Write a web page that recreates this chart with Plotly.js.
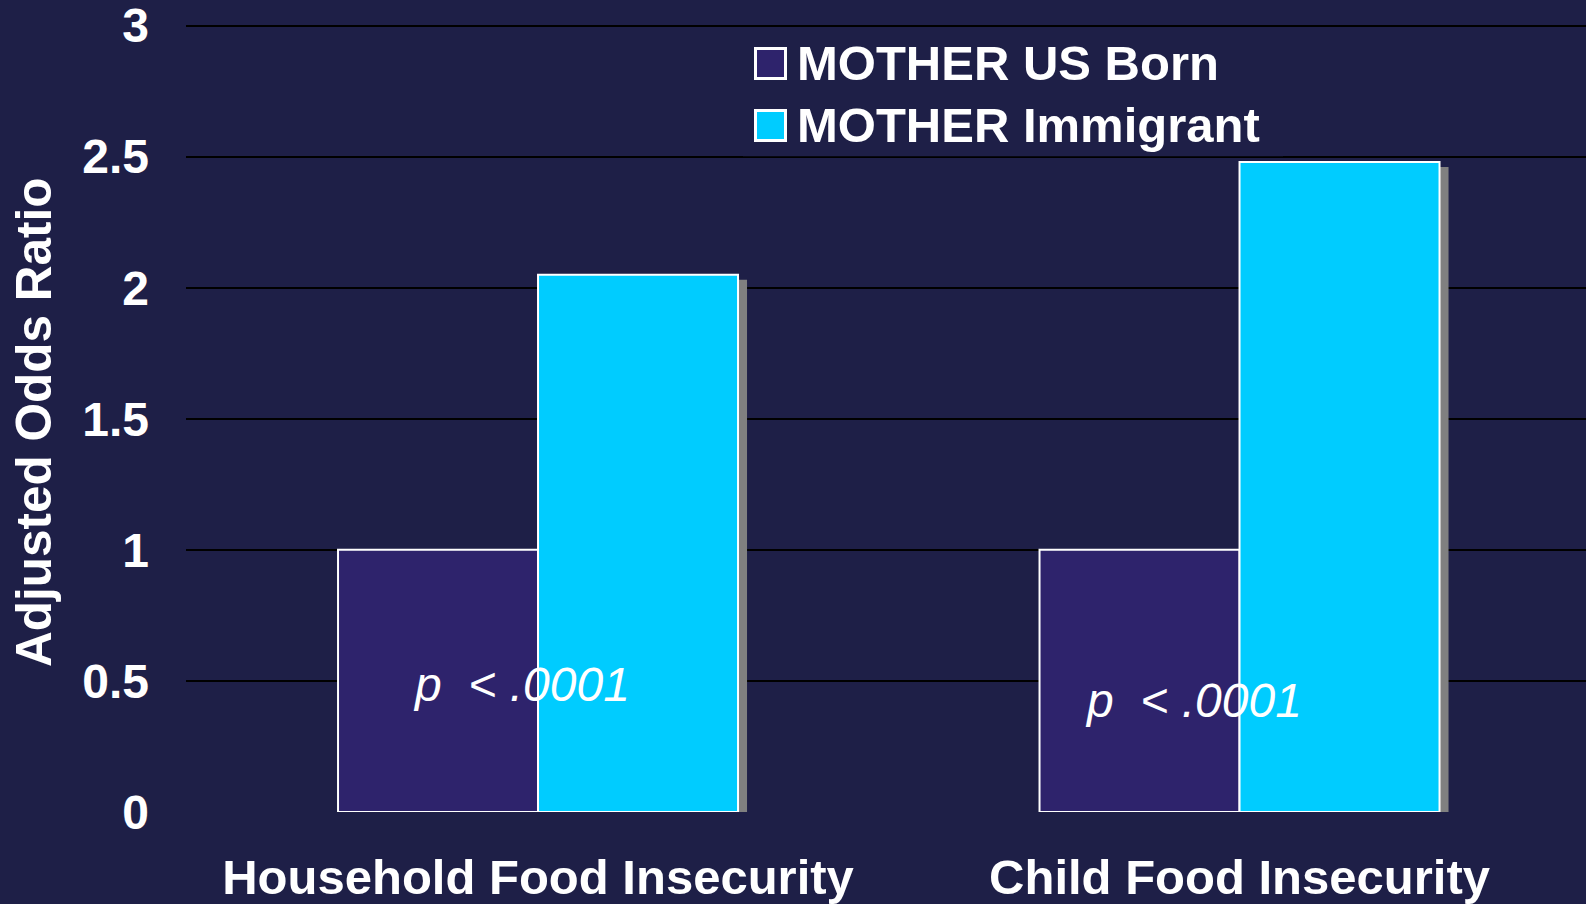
<!DOCTYPE html>
<html>
<head>
<meta charset="utf-8">
<script src="https://cdn.plot.ly/plotly-3.0.1.min.js"></script>
<style>
  html, body { margin: 0; padding: 0; background: #1E1F47; }
  #chart { width: 1586px; height: 904px; }
</style>
</head>
<body>
<div id="chart"></div>
<script>
// ---- data ----
const categories = ['Household Food Insecurity', 'Child Food Insecurity'];
const seriesNames = ['MOTHER US Born', 'MOTHER Immigrant'];
const usBorn = [1, 1];
const immigrant = [2.05, 2.48];
const yTicks = [0, 0.5, 1, 1.5, 2, 2.5, 3];
const yTickText = ['0', '0.5', '1', '1.5', '2', '2.5', '3'];
const yTitle = 'Adjusted Odds Ratio';
const pLabel = 'p&nbsp; &lt; .0001';

// ---- style ----
const BG = '#1E1F47';
const C_US = '#2E236C';
const C_IM = '#00CCFF';
const SHADOW = '#808080';
const FONT = 'Liberation Sans, Arial, Helvetica, sans-serif';

const W = 1586, H = 904;
const L = 186, R = 0, T = 23, B = 92;
const PW = W - L - R, PH = H - T - B;
const fx = x => (x - L) / PW;
const fy = y => (H - B - y) / PH;

const Y_MAX = 3.01;
const X_RANGE = [-0.50182, 1.4939];

// shadow offset in pixels
const SDX = 8, SDY = 6;
const catUnitPx = PW / (X_RANGE[1] - X_RANGE[0]);
const yUnitPx = PH / Y_MAX;
const sx = SDX / catUnitPx, sy = SDY / yUnitPx;

const barCommon = {type: 'bar', hoverinfo: 'skip', showlegend: false};

const traces = [
  // shadows (main axes, shifted by a few pixels)
  Object.assign({}, barCommon, {x: categories, y: usBorn, xaxis: 'x', yaxis: 'y',
    marker: {color: SHADOW, line: {color: SHADOW, width: 2}}}),
  Object.assign({}, barCommon, {x: categories, y: immigrant, xaxis: 'x', yaxis: 'y',
    marker: {color: SHADOW, line: {color: SHADOW, width: 2}}}),
  // real bars (overlay axes)
  Object.assign({}, barCommon, {name: seriesNames[0], x: categories, y: usBorn, xaxis: 'x2', yaxis: 'y2',
    marker: {color: C_US, line: {color: '#FFFFFF', width: 2}}}),
  Object.assign({}, barCommon, {name: seriesNames[1], x: categories, y: immigrant, xaxis: 'x2', yaxis: 'y2',
    marker: {color: C_IM, line: {color: '#FFFFFF', width: 2}}})
];

// legend (drawn manually to match the large squares)
const legendRows = [
  {name: seriesNames[0], color: C_US, top: 47},
  {name: seriesNames[1], color: C_IM, top: 109}
];
const shapes = [
  {type: 'rect', xref: 'paper', yref: 'paper', x0: fx(743), x1: fx(1283), y0: fy(156.3), y1: fy(34),
   fillcolor: BG, line: {width: 0}, layer: 'above'}
];
const annotations = [];
legendRows.forEach(r => {
  shapes.push({type: 'rect', xref: 'paper', yref: 'paper',
    x0: fx(755.5), x1: fx(785.5), y0: fy(r.top + 31.5), y1: fy(r.top + 1.5),
    fillcolor: r.color, line: {color: '#FFFFFF', width: 3}, layer: 'above'});
  annotations.push({xref: 'paper', yref: 'paper', x: fx(795), y: fy(r.top + 16), xanchor: 'left', yanchor: 'middle',
    text: r.name, showarrow: false, font: {family: FONT, size: 49, color: '#FFFFFF', weight: 'bold'}});
});
// y-axis title
annotations.push({xref: 'paper', yref: 'paper', x: fx(33), y: fy(422), textangle: -90,
  xanchor: 'center', yanchor: 'middle', text: yTitle, showarrow: false,
  font: {family: FONT, size: 49.5, color: '#FFFFFF', weight: 'bold'}});
// p-value labels
annotations.push({xref: 'x2', yref: 'y2', x: -0.024, y: 0.485, text: '<i>' + pLabel + '</i>', showarrow: false,
  xanchor: 'center', yanchor: 'middle', font: {family: FONT, size: 48, color: '#FFFFFF'}});
annotations.push({xref: 'x2', yref: 'y2', x: 0.935, y: 0.427, text: '<i>' + pLabel + '</i>', showarrow: false,
  xanchor: 'center', yanchor: 'middle', font: {family: FONT, size: 48, color: '#FFFFFF'}});

const layout = {
  width: W, height: H,
  paper_bgcolor: BG, plot_bgcolor: BG,
  margin: {l: L, r: R, t: T, b: B, pad: 0},
  barmode: 'group', bargap: 0.4298, bargroupgap: 0,
  showlegend: false,
  font: {family: FONT, color: '#FFFFFF'},
  xaxis: {type: 'category', range: [X_RANGE[0] - sx, X_RANGE[1] - sx], showticklabels: false, showgrid: false,
    zeroline: false, showline: false, ticks: '', fixedrange: true},
  yaxis: {range: [0 + sy, Y_MAX + sy], showticklabels: false, showgrid: false, zeroline: false,
    showline: false, ticks: '', fixedrange: true},
  xaxis2: {type: 'category', overlaying: 'x', range: X_RANGE, showgrid: false, zeroline: false,
    showline: false, ticks: '', ticklabelstandoff: 32,
    tickfont: {family: FONT, size: 49, color: '#FFFFFF', weight: 'bold'}},
  yaxis2: {overlaying: 'y', side: 'left', range: [0, Y_MAX], tickvals: yTicks, ticktext: yTickText,
    showgrid: true, gridcolor: '#000000', gridwidth: 2,
    zeroline: true, zerolinecolor: BG, zerolinewidth: 4,
    showline: false, ticks: '', ticklabelstandoff: 36, ticklabeloverflow: 'allow',
    tickfont: {family: FONT, size: 48, color: '#FFFFFF', weight: 'bold'}},
  shapes: shapes,
  annotations: annotations
};

Plotly.newPlot('chart', traces, layout, {staticPlot: true, displayModeBar: false});
</script>
</body>
</html>
